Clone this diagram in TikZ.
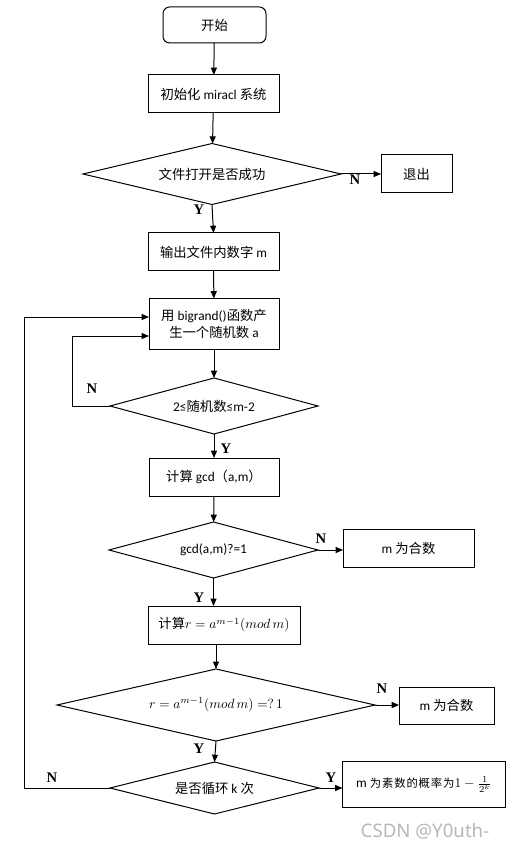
\documentclass[tikz,border=0pt]{standalone}
\usepackage{fontspec}
\setmainfont{Carlito}
\newfontfamily\zhfont{Noto Sans CJK SC}
\newfontfamily\zhwide[LetterSpace=8]{Noto Sans CJK SC}
\newfontfamily\lblfont{Liberation Serif}
\newfontfamily\wmfont{Noto Sans}
\newcommand{\zh}[1]{{\zhfont #1}}
\usetikzlibrary{shapes.geometric,arrows.meta}

\tikzset{every picture/.style={line width=0.75pt}}
\tikzset{
  procbox/.style={draw, rectangle, inner sep=0pt, outer sep=0pt, align=center, font=\fontsize{10}{13}\selectfont},
  termbox/.style={procbox, rounded corners=5pt},
  decbox/.style={draw, diamond, inner sep=0pt, outer sep=0pt, align=center, font=\fontsize{10}{13}\selectfont},
  boxsize/.style n args={2}{minimum width=#1*0.75pt, minimum height=#2*0.75pt},
  decsize/.style n args={3}{boxsize={#1}{#2}, aspect=#3},
  flow/.style={-{Triangle[length=5.5pt,width=4.5pt]}},
  yn/.style={inner sep=0.75pt, font=\lblfont\bfseries\fontsize{11}{12}\selectfont}
}

\begin{document}
\begin{tikzpicture}[x=0.75pt,y=0.75pt,yscale=-1,xscale=1]
\useasboundingbox (0,0) rectangle (506,848);

% Start / process boxes
\node [termbox, boxsize={103}{36}] (start) at (214.5,25) {\zh{开始}};
\node [procbox, boxsize={131}{38}] (init) at (213.5,94) {\zh{初始化} miracl \zh{系统}};
\node [decbox, decsize={258}{61}{4.2}] (open) at (212,174) {\zh{文件打开是否成功}};
\node [procbox, boxsize={71}{38}] (quit) at (416.5,174) {\zh{退出}};
\node [procbox, boxsize={131}{38}] (output) at (213.5,252) {\zh{输出文件内数字} m};
\node [procbox, boxsize={130}{51}] (rand) at (214,324) {\zh{用} bigrand()\zh{函数产}\\\zh{生一个随机数} a};
\node [decbox, decsize={208}{56}{3.7}] (range) at (214,406) {2≤\zh{随机数}≤m-2};
\node [procbox, boxsize={130}{38}] (gcd) at (214,477) {\zh{计算} gcd\zh{（}a,m\zh{）}};
\node [decbox, decsize={209}{56}{3.7}] (gcdtest) at (213.5,550) {gcd(a,m)?=1};
\node [procbox, boxsize={131}{38}] (comp1) at (408.5,548) {m \zh{为合数}};
\node [procbox, boxsize={152}{38}] (power) at (224,625) {\zh{计算}$r=a^{m-1}(mod\,m)$};
\node [decbox, decsize={318}{72}{4.4}] (fermat) at (216,705) {$r=a^{m-1}(mod\,m)=?\,1$};
\node [procbox, boxsize={95}{37}] (comp2) at (446.5,705.5) {m \zh{为合数}};
\node [decbox, decsize={209}{52}{4}] (loop) at (214.5,788) {\zh{是否循环} k \zh{次}};
\node [procbox, boxsize={163}{46}] (prime) at (424,784) {$\mathrm{m}$ {\zhwide\fontsize{8.5}{11}\selectfont 为素数的概率为}$1-\frac{1}{2^{k}}$};

% Loop corners
\coordinate (inner) at (72,336);
\coordinate (outer) at (24,317);

% Connectors
\draw [flow] (start) -- (init);
\draw [flow] (init) -- (open);
\draw [flow] (open.east) -- (quit.west);
\draw [flow] (open.south) -- (output.north);
\draw [flow] (output) -- (rand);
\draw [flow] (rand) -- (range);
\draw [flow] (range.west) -| (inner) -- (inner -| rand.west);
\draw [flow] (range.south) -- (gcd.north);
\draw [flow] (gcd) -- (gcdtest);
\draw [flow] (gcdtest.east) -- (comp1.west |- gcdtest.east);
\draw [flow] (gcdtest.south) -- (gcdtest.south |- power.north);
\draw [flow] (power.south -| fermat.north) -- (fermat.north);
\draw [flow] (fermat.east) -- (comp2.west |- fermat.east);
\draw [flow] (fermat.south) -- (loop.north);
\draw [flow] (loop.east) -- (prime.west |- loop.east);
\draw [flow] (loop.west) -| (outer) -- (outer -| rand.west);

% Y / N labels
\node [yn] (openN) at (355,180) {N};
\node [yn] (openY) at (199,210) {Y};
\node [yn] (rangeN) at (92,389) {N};
\node [yn] (rangeY) at (226,449) {Y};
\node [yn] (gcdN) at (321,539) {N};
\node [yn] (gcdY) at (199,598) {Y};
\node [yn] (fermatN) at (382,689) {N};
\node [yn] (fermatY) at (199,749) {Y};
\node [yn] (loopN) at (52,778) {N};
\node [yn] (loopY) at (331,778) {Y};

% Watermark
\node [text=black!28, font=\wmfont\fontsize{14}{15}\selectfont, inner sep=0pt] (mark) at (425,831) {CSDN @Y0uth-};

\end{tikzpicture}
\end{document}
